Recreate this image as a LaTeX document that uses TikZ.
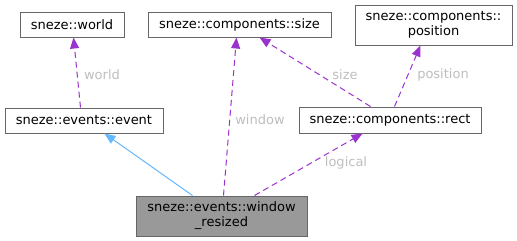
\documentclass[tikz,border=0pt]{standalone}
\usepackage{fontspec}
\setmainfont{DejaVu Sans}
\usetikzlibrary{arrows.meta}
\definecolor{boxline}{HTML}{666666}
\definecolor{usecol}{HTML}{9A32CD}
\definecolor{inhcol}{HTML}{63B8FF}
\definecolor{lblcol}{HTML}{BEBEBE}
\definecolor{curfill}{HTML}{999999}
\begin{document}
\begin{tikzpicture}[x=1pt,y=-1pt,
  cls/.style={draw=boxline, line width=1pt, fill=white, inner sep=0pt, align=center, font=\fontsize{13}{15}\selectfont},
  usage/.style={draw=usecol, line width=1pt, dash pattern=on 6pt off 4pt,
    -{Triangle[length=11pt,width=9pt,fill=usecol]}},
  inherit/.style={draw=inhcol, line width=1pt, -{Triangle[length=11pt,width=9pt,fill=inhcol]}},
  lbl/.style={text=lblcol, font=\fontsize{13}{15}\selectfont, inner sep=0pt}]
\useasboundingbox (0,0) rectangle (517,241);
% classes
\node[cls, minimum width=104pt, minimum height=25pt] (world) at (72,24.5) {sneze::world};
\node[cls, minimum width=183pt, minimum height=25pt] (size) at (239.5,24.5) {sneze::components::size};
\node[cls, minimum width=157pt, minimum height=40pt] (position) at (433.5,25) {sneze::components::\\position};
\node[cls, minimum width=158pt, minimum height=25pt] (event) at (84,120.5) {sneze::events::event};
\node[cls, minimum width=182pt, minimum height=26pt] (rect) at (390,120) {sneze::components::rect};
\node[cls, fill=curfill, minimum width=171pt, minimum height=40pt] (wr) at (221.5,216) {sneze::events::window\\\_resized};
% relations
\draw[usage] ([xshift=76pt]event.north west) -- ([xshift=54pt]world.south west);
\draw[inherit] ([xshift=57pt]wr.north west) -- ([xshift=100pt]event.south west);
\draw[usage] ([xshift=88pt]wr.north west) -- ([xshift=89pt]size.south west);
\draw[usage] ([xshift=119pt]wr.north west) -- ([xshift=64pt]rect.south west);
\draw[usage] ([xshift=72pt]rect.north west) -- ([xshift=112pt]size.south west);
\draw[usage] ([xshift=96pt]rect.north west) -- ([xshift=66pt]position.south west);
% labels
\node[lbl] (lworld) at (102,75) {world};
\node[lbl] (lwindow) at (260,120) {window};
\node[lbl] (llogical) at (346,163) {logical};
\node[lbl] (lsize) at (345,75) {size};
\node[lbl] (lposition) at (443,75) {position};
\end{tikzpicture}
\end{document}
